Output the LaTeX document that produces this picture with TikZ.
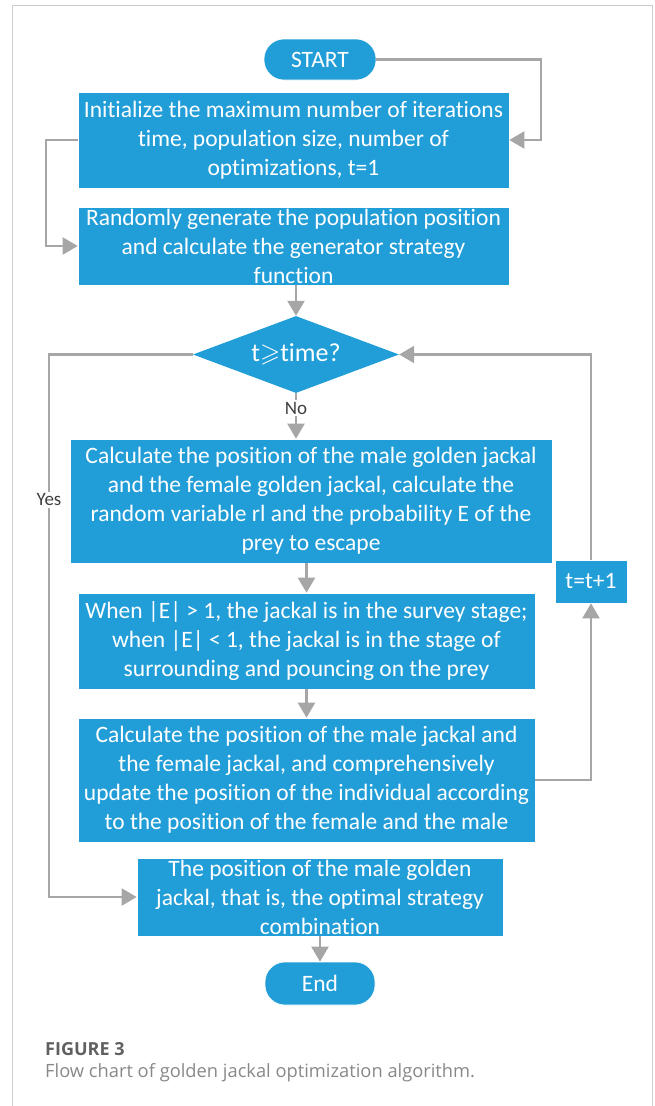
\documentclass[tikz,border=0pt]{standalone}
\usepackage{amssymb}
\usepackage{fontspec}
\setmainfont{Carlito}[Ligatures=NoCommon]
\newfontfamily\capfont{Open Sans}
\usetikzlibrary{shapes.geometric,arrows.meta}

\definecolor{boxblue}{RGB}{33,157,216}
\definecolor{arrgray}{RGB}{166,166,166}
\definecolor{framegray}{RGB}{204,204,204}
\definecolor{capgray}{RGB}{96,96,96}

\begin{document}
\begin{tikzpicture}[x=1pt,y=-1pt,
    every node/.style={font=\fontsize{23.5}{29}\selectfont, text=white, align=center, inner sep=0pt},
    box/.style={fill=boxblue, draw=white, line width=0.6pt},
    pill/.style={box, rounded corners=20pt},
    decision/.style={diamond, fill=boxblue, aspect=2.68, font=\fontsize{26}{29}\selectfont},
    arr/.style={draw=arrgray, line width=2.2pt, -{Triangle[length=15pt,width=17pt]}},
    lbl/.style={font=\fontsize{19}{21}\selectfont, text=black!75, fill=white, inner sep=2pt}]

\useasboundingbox (0,0) rectangle (654,1106);

% ==== 外框 ====
\draw[framegray, line width=1pt] (12,1106) -- (12,5) -- (652,5) -- (652,1106);

% ==== 流程框 ====
\node[pill, minimum width=112pt, minimum height=41pt] (start) at (320,59.5) {START};
\node[box, minimum width=431pt, minimum height=96pt] (init) at (293.5,140)
  {Initialize the maximum number of iterations\\ time, population size, number of\\ optimizations, t=1};
\node[box, minimum width=431pt, minimum height=78pt] (rand) at (293.5,246)
  {Randomly generate the population position\\ and calculate the generator strategy\\ function};
\node[decision, minimum width=206pt, minimum height=77pt] (dec) at (296,354.5)
  {t\ensuremath{\geqslant}time?};
\node[box, minimum width=482pt, minimum height=124pt] (calc) at (311,501)
  {Calculate the position of the male golden jackal\\ and the female golden jackal, calculate the\\ random variable rl and the probability E of the\\ prey to escape};
\node[box, minimum width=457pt, minimum height=96pt] (survey) at (306.5,641)
  {When |E| > 1, the jackal is in the survey stage;\\ when |E| < 1, the jackal is in the stage of\\ surrounding and pouncing on the prey};
\node[box, minimum width=457pt, minimum height=124pt] (update) at (306.5,780)
  {Calculate the position of the male jackal and\\ the female jackal, and comprehensively\\ update the position of the individual according\\ to the position of the female and the male};
\node[box, minimum width=72pt, minimum height=43pt] (tinc) at (591,581.5) {t=t+1};
\node[box, minimum width=366pt, minimum height=78pt] (final) at (320,897)
  {The position of the male golden\\ jackal, that is, the optimal strategy\\ combination};
\node[pill, minimum width=110pt, minimum height=43pt] (stop) at (320,983.5) {End};

% ==== 连线 ====
\coordinate (rcorner) at (541,140);
\coordinate (lcorner) at (46,140);
\coordinate (ycorner) at (49,354.5);
\draw[arr] (start.east) -| (rcorner) -- (init.east);
\draw[arr] (init.west) -- (lcorner) |- (rand.west);
\draw[arr] (rand.south -| dec.north) -- (dec.north);
\draw[arr] (dec.south) -- node[lbl, pos=0.33] {No} (dec.south |- calc.north);
\draw[arr] (calc.south -| survey.north) -- (survey.north);
\draw[arr] (survey.south) -- (update.north);
\draw[arr] (update.east) -| (tinc.south);
\draw[arr] (tinc.north) |- (dec.east);
\draw[arr] (dec.west) -- (ycorner) |- node[lbl, pos=0.134] {Yes} (final.west);
\draw[arr] (final.south) -- (stop.north);

% ==== 图注 ====
\node[anchor=west, text=capgray, font=\capfont\fontsize{18}{21}\selectfont\bfseries] (capnum) at (45,1049) {FIGURE 3};
\node[anchor=west, text=capgray!75, font=\capfont\fontsize{18.3}{21}\selectfont] (captext) at (45,1073)
  {Flow chart of golden jackal optimization algorithm.};

\end{tikzpicture}
\end{document}
